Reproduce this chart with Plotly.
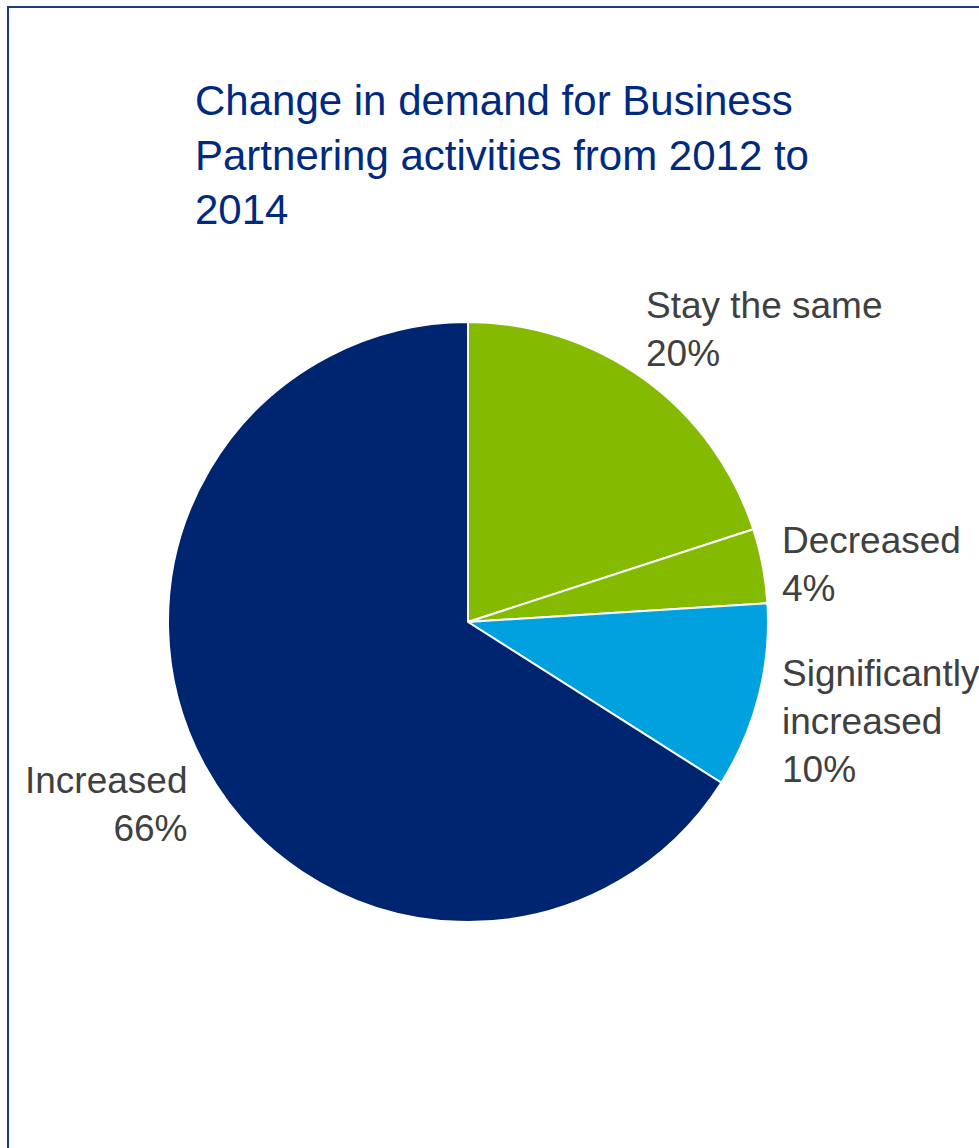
import plotly.graph_objects as go

# Survey responses: change in demand for Business Partnering activities
categories = ["Stay the same", "Decreased", "Significantly increased", "Increased"]
shares = [20, 4, 10, 66]
slice_colors = ["#84BA00", "#84BA00", "#00A1DE", "#002570"]
label_lines = [["Stay the same"], ["Decreased"], ["Significantly", "increased"], ["Increased"]]

W, H = 979, 1148
FONT = "Liberation Sans, Arial, sans-serif"


def px_x(v):
    return v / W


def px_y(v):
    return 1 - v / H


# pie geometry in pixels: centre (468, 622), radius 300
cx, cy, r = 468, 622, 300

fig = go.Figure(
    go.Pie(
        labels=categories,
        values=shares,
        sort=False,
        direction="clockwise",
        rotation=0,
        marker=dict(colors=slice_colors, line=dict(color="white", width=2)),
        textinfo="none",
        hoverinfo="label+percent",
        showlegend=False,
        domain=dict(x=[px_x(cx - r), px_x(cx + r)], y=[px_y(cy + r), px_y(cy - r)]),
    )
)

# slice labels (text lines + percentage), placed around the pie
label_pos = {
    "Stay the same": (644, 283, "left"),
    "Decreased": (780, 518, "left"),
    "Significantly increased": (780, 651, "left"),
    "Increased": (190, 758, "right"),
}
annotations = []
for cat, val, lines in zip(categories, shares, label_lines):
    x, y, anchor = label_pos[cat]
    text = "<br>".join(lines + [f"{val}%"])
    annotations.append(
        dict(
            x=px_x(x), y=px_y(y), xref="paper", yref="paper",
            xanchor=anchor, yanchor="top", align=anchor,
            text=text, showarrow=False,
            font=dict(family=FONT, size=37, color="#404040"),
        )
    )

fig.update_layout(
    width=W,
    height=H,
    margin=dict(l=0, r=0, t=0, b=0),
    paper_bgcolor="white",
    plot_bgcolor="white",
    title=dict(
        text="Change in demand for Business<br>Partnering activities from 2012 to<br>2014",
        x=px_x(195), xanchor="left",
        y=px_y(115), yanchor="top",
        font=dict(family=FONT, size=42, color="#002A7F"),
    ),
    annotations=annotations,
    shapes=[
        dict(
            type="rect", xref="paper", yref="paper",
            x0=px_x(8), x1=1.02, y0=-0.02, y1=px_y(7),
            line=dict(color="#1F3A8A", width=2),
            fillcolor="rgba(0,0,0,0)",
        )
    ],
)

fig.write_html("out.html")
